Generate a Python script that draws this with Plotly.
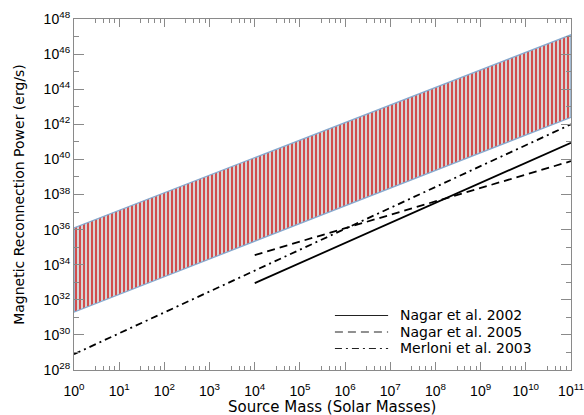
import plotly.graph_objects as go

# ---- data ----
band_mass = [1e0, 1e11]
band_upper = [10.0**36.1, 10.0**47.1]
band_lower = [10.0**31.3, 10.0**42.4]

nagar2002_mass = [1e4, 1e11]
nagar2002_power = [10.0**32.95, 10.0**40.95]

nagar2005_mass = [1e4, 1e11]
nagar2005_power = [10.0**34.55, 10.0**39.9]

merloni_mass = [1e0, 1e11]
merloni_power = [10.0**28.9, 10.0**42.0]

series_names = ["Nagar et al. 2002", "Nagar et al. 2005", "Merloni et al. 2003"]
series_dash = ["solid", "8px,5px", "7px,4px,2px,4px"]

x_decades = list(range(0, 12))
y_major_decades = list(range(28, 49, 2))
y_minor_decades = list(range(29, 48, 2))
x_minor_mult = [3, 4.5, 6, 8]

FONT = "DejaVu Sans"
TFONT = "Liberation Sans"
AX = "#8a8a8a"

fig = go.Figure()

fig.add_trace(go.Scatter(
    x=band_mass + band_mass[::-1] + band_mass[:1],
    y=band_upper + band_lower[::-1] + band_upper[:1],
    mode="lines", fill="toself",
    line=dict(color="#86a9cf", width=1.3),
    fillcolor="#d9d9d9",
    fillpattern=dict(shape="|", size=4, solidity=0.42,
                     fgcolor="#d23434", bgcolor="#d6d6d6", fillmode="replace"),
    showlegend=False, hoverinfo="skip"))

for xs, ys, name, dash in zip([nagar2002_mass, nagar2005_mass, merloni_mass],
                              [nagar2002_power, nagar2005_power, merloni_power],
                              series_names, series_dash):
    fig.add_trace(go.Scatter(x=xs, y=ys, mode="lines",
                             line=dict(color="black", width=1.8, dash=dash),
                             name=name, showlegend=False))

# legend drawn as key lines + labels in the lower right corner
leg_rows_y = [0.1553, 0.1083, 0.0613]
for name, dash, ly in zip(series_names, series_dash, leg_rows_y):
    fig.add_shape(type="line", xref="paper", yref="paper",
                  x0=0.525, x1=0.632, y0=ly, y1=ly,
                  line=dict(color="#222222", width=1.2, dash=dash))
    fig.add_annotation(xref="paper", yref="paper", x=0.652, y=ly,
                       xanchor="left", yanchor="middle", showarrow=False,
                       text=name, font=dict(family=FONT, size=14, color="black"))

# x-axis title
fig.add_annotation(xref="paper", yref="paper", x=0.52, y=-0.104,
                   xanchor="center", yanchor="middle", showarrow=False,
                   text="Source Mass (Solar Masses)",
                   font=dict(family=FONT, size=15, color="black"))

fig.update_xaxes(
    type="log", range=[-0.0005, 11.0005], automargin=False,
    tickvals=[10.0**k for k in x_decades],
    ticktext=[f"10<sup>{k}</sup>" for k in x_decades],
    ticks="inside", ticklen=8, tickwidth=1, tickcolor=AX,
    ticklabelstandoff=8, ticklabeloverflow="allow",
    minor=dict(tickvals=[m * 10.0**k for k in x_decades[:-1] for m in x_minor_mult],
               ticks="inside", ticklen=4, tickcolor=AX, tickwidth=1),
    showline=True, linecolor=AX, linewidth=1.2, mirror="ticks",
    showgrid=False, zeroline=False,
    tickfont=dict(family=TFONT, size=14, color="black"),
)
fig.update_yaxes(
    type="log", range=[28, 48], automargin=False,
    tickvals=[10.0**k for k in y_major_decades],
    ticktext=[f"10<sup>{k}</sup>" for k in y_major_decades],
    ticks="inside", ticklen=10, tickwidth=1, tickcolor=AX,
    ticklabeloverflow="allow",
    minor=dict(tickvals=[10.0**k for k in y_minor_decades],
               ticks="inside", ticklen=5, tickcolor=AX, tickwidth=1),
    showline=True, linecolor=AX, linewidth=1.2, mirror="ticks",
    showgrid=False, zeroline=False,
    tickfont=dict(family=TFONT, size=14, color="black"),
    title=dict(text="Magnetic Reconnection Power (erg/s)",
               font=dict(family=FONT, size=14, color="black")),
)

fig.update_layout(
    width=584, height=415,
    margin=dict(l=74, r=13, t=19, b=45),
    paper_bgcolor="white", plot_bgcolor="white",
    font=dict(family=FONT, color="black"),
    showlegend=False,
)

fig.write_html("out.html")
